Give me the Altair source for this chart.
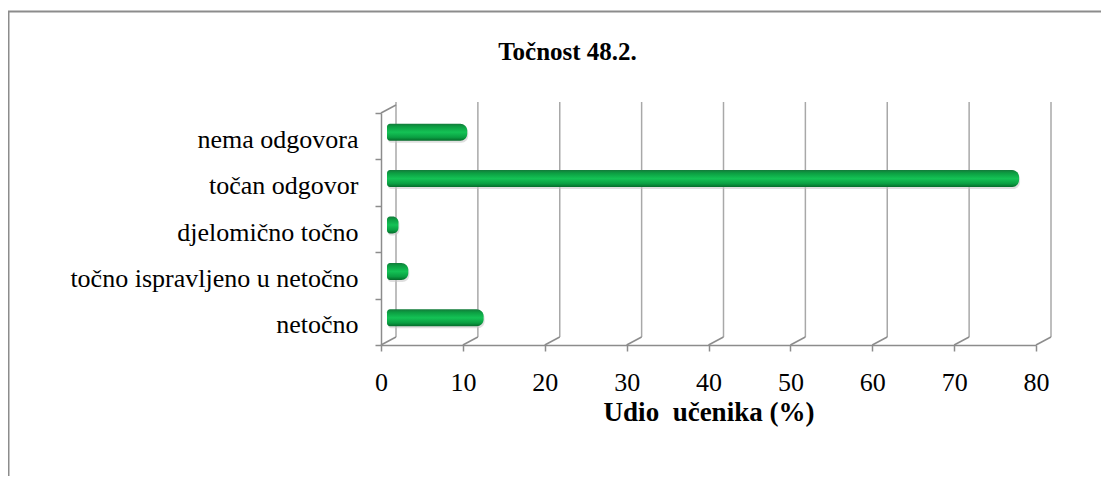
import altair as alt
import pandas as pd

# ---- data ----
chart_title = "Točnost 48.2."
x_title = "Udio\u00a0 učenika (%)"
categories = ["nema odgovora", "točan odgovor", "djelomično točno",
              "točno ispravljeno u netočno", "netočno"]
values = [9.8, 77.2, 1.4, 2.6, 11.8]
x_ticks = [0, 10, 20, 30, 40, 50, 60, 70, 80]

W, H = 655, 232          # plot area
DX, DY = 15, 8           # pseudo-3D depth offset
SERIF = "Liberation Serif"
GRAY = "#8c8c8c"

bars_df = pd.DataFrame({"kategorija": categories, "udio": values, "nula": [0] * len(values)})
ticks_df = pd.DataFrame({"t": x_ticks})
corner_df = pd.DataFrame({"t": [0]})
single_df = pd.DataFrame({"f": [0]})

xscale = alt.Scale(domain=[0, 80], nice=False, zero=True)
yscale = alt.Scale(domain=categories, paddingInner=0, paddingOuter=0)

x_axis = alt.Axis(values=x_ticks, grid=False, domainColor=GRAY, domainWidth=1.5,
                  tickColor=GRAY, tickWidth=1.5, tickSize=6, labelPadding=18,
                  labelFlush=False, labelFont=SERIF, labelFontSize=26, labelColor="black",
                  title=x_title, titleFont=SERIF, titleFontSize=27,
                  titleFontWeight="bold", titleColor="black", titlePadding=4)

y_axis = alt.Axis(title=None, tickBand="extent", tickSize=6, tickColor=GRAY,
                  tickWidth=1.5, domainColor=GRAY, domainWidth=1.5, grid=False,
                  labelFont=SERIF, labelFontSize=26, labelColor="black",
                  labelPadding=17, labelOffset=3, labelLimit=0)

def X(field):
    return alt.X(field, type="quantitative", scale=xscale, axis=x_axis)

frame = alt.Chart(single_df).mark_rect(
    fill="white", fillOpacity=0, stroke=GRAY, strokeWidth=2
).encode(x=alt.value(-372.5), x2=alt.value(740),
         y=alt.value(-101.5), y2=alt.value(400))

title_mark = alt.Chart(single_df).mark_text(
    font=SERIF, fontSize=25, fontWeight="bold", color="black",
    align="center", baseline="alphabetic"
).encode(x=alt.value(186.5), y=alt.value(-53), text=alt.value(chart_title))

back_grid = alt.Chart(ticks_df).mark_rule(
    color="#a8a8a8", strokeWidth=1.5, xOffset=DX
).encode(x=X("t"), y=alt.value(-11), y2=alt.value(H - DY))

floor_diag = alt.Chart(ticks_df).mark_rule(
    color=GRAY, strokeWidth=1.5, x2Offset=DX
).encode(x=X("t"), x2="t", y=alt.value(H), y2=alt.value(H - DY))

top_diag = alt.Chart(corner_df).mark_rule(
    color=GRAY, strokeWidth=1.5, x2Offset=DX
).encode(x=X("t"), x2="t", y=alt.value(0), y2=alt.value(-DY))

green = alt.Gradient(
    gradient="linear", x1=0, x2=0, y1=0, y2=1,
    stops=[alt.GradientStop(color="#137a3a", offset=0),
           alt.GradientStop(color="#0c9e42", offset=0.18),
           alt.GradientStop(color="#14c255", offset=0.5),
           alt.GradientStop(color="#0a9f42", offset=0.8),
           alt.GradientStop(color="#056a2a", offset=1)])

Y = alt.Y("kategorija:N", scale=yscale, axis=y_axis, sort=categories)

shadow = alt.Chart(bars_df).mark_bar(
    height=17, xOffset=7, x2Offset=7, yOffset=-2, color="#c4c4c4", opacity=0.55,
    cornerRadiusTopRight=7, cornerRadiusBottomRight=7,
    cornerRadiusTopLeft=3, cornerRadiusBottomLeft=3
).encode(x=X("udio"), x2="nula", y=Y)

bars = alt.Chart(bars_df).mark_bar(
    height=17, xOffset=6, x2Offset=6, yOffset=-4, color=green,
    cornerRadiusTopRight=7, cornerRadiusBottomRight=7,
    cornerRadiusTopLeft=3, cornerRadiusBottomLeft=3
).encode(x=X("udio"), x2="nula", y=Y)

chart = alt.layer(frame, back_grid, floor_diag, top_diag, shadow, bars, title_mark).properties(
    width=W, height=H,
    background="white",
    autosize=alt.AutoSizeParams(type="none"),
    padding={"left": 373, "top": 105, "right": 65, "bottom": 131},
).configure_view(stroke="transparent", strokeWidth=0)

chart.save("out.html", embed_options={"renderer": "svg", "actions": False})
